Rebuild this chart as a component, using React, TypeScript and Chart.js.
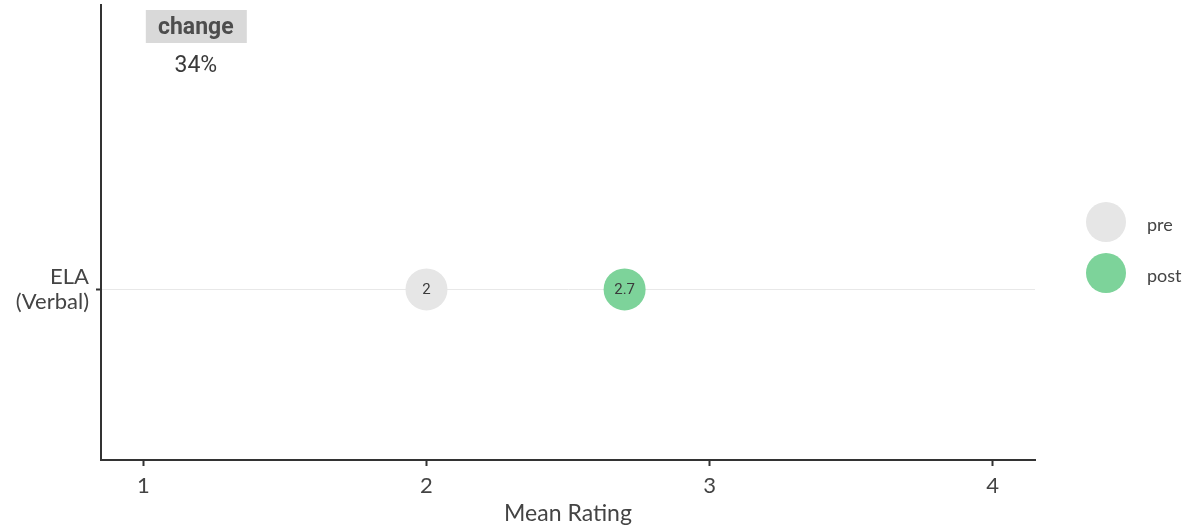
import React, { useEffect, useRef } from "react";
import { Chart, registerables } from "chart.js";

Chart.register(...registerables);

const categories = [["ELA", "(Verbal)"]];
const seriesNames = ["pre", "post"];
const preValues = [2];
const postValues = [2.7];
const changeLabels = ["34%"];
const xTicks = [1, 2, 3, 4];
const colors = ["#e6e6e6", "#7dd39a"];

export default function App() {
  const ref = useRef<HTMLCanvasElement | null>(null);

  useEffect(() => {
    document.body.style.margin = "0";
    const canvas = ref.current!;
    const series = [preValues, postValues];

    const labelPlugin = {
      id: "customDraw",
      afterDatasetsDraw(chart: any) {
        const ctx = chart.ctx;
        ctx.save();
        chart.data.datasets.forEach((ds: any, i: number) => {
          const meta = chart.getDatasetMeta(i);
          meta.data.forEach((pt: any, j: number) => {
            const v = ds.data[j].x;
            ctx.fillStyle = "#3a3a3a";
            ctx.font = "15px Roboto";
            ctx.textAlign = "center";
            ctx.textBaseline = "middle";
            ctx.fillText(String(v), pt.x, pt.y + 1);
          });
        });
        // change header
        const xs = chart.scales.x;
        const cx = xs.getPixelForValue(1.185);
        ctx.fillStyle = "#d9d9d9";
        ctx.fillRect(cx - 50, 10, 101, 33);
        ctx.fillStyle = "#4d4d4d";
        ctx.font = "bold 23px Roboto";
        ctx.textAlign = "center";
        ctx.textBaseline = "middle";
        ctx.fillText("change", cx, 28);
        ctx.fillStyle = "#3a3a3a";
        ctx.font = "23px Roboto";
        changeLabels.forEach((t) => ctx.fillText(t, cx, 66));
        // legend
        chart.data.datasets.forEach((ds: any, i: number) => {
          const ly = 222 + i * 51;
          ctx.beginPath();
          ctx.arc(1106, ly, 20, 0, Math.PI * 2);
          ctx.fillStyle = ds.backgroundColor;
          ctx.fill();
          ctx.fillStyle = "#444";
          ctx.font = "18px Lato";
          ctx.textAlign = "left";
          ctx.fillText(ds.label, 1147, ly + 3);
        });
        ctx.restore();
      },
    };

    const chart = new Chart(canvas, {
      type: "scatter",
      data: {
        datasets: seriesNames.map((name, i) => ({
          label: name,
          data: series[i].map((v, j) => ({ x: v, y: j + 1 })),
          backgroundColor: colors[i],
          borderColor: colors[i],
          borderWidth: 0,
          pointRadius: 21,
          pointHoverRadius: 21,
        })),
      },
      options: {
        animation: false,
        responsive: true,
        maintainAspectRatio: false,
        layout: { autoPadding: false, padding: { top: 5, right: 158, left: 0, bottom: 0 } },
        plugins: { legend: { display: false }, tooltip: { enabled: false } },
        scales: {
          x: {
            type: "linear",
            min: 0.85,
            max: 4.15,
            afterBuildTicks: (s: any) => {
              s.ticks = xTicks.map((v) => ({ value: v }));
            },
            afterFit: (s: any) => {
              s.height = 67;
              s.paddingLeft = 0;
              s.paddingRight = 0;
            },
            border: { display: true, color: "#333", width: 2 },
            grid: {
              display: true,
              drawOnChartArea: false,
              tickColor: "#333",
              tickLength: 6,
              tickWidth: 2,
            },
            ticks: {
              color: "#444",
              font: { family: "Lato", size: 22 },
              padding: 7,
              callback: (v: any) => String(v),
            },
            title: {
              display: true,
              text: "Mean Rating",
              color: "#444",
              font: { family: "Lato", size: 23 },
              padding: { top: 0, bottom: 0 },
            },
          },
          y: {
            type: "linear",
            min: 0.4,
            max: 2.0,
            afterBuildTicks: (s: any) => {
              s.ticks = categories.map((_, i) => ({ value: i + 1 }));
            },
            afterFit: (s: any) => {
              s.width = 101;
              s.paddingTop = 0;
              s.paddingBottom = 0;
            },
            border: { display: true, color: "#333", width: 2 },
            grid: {
              display: true,
              color: "#e8e8e8",
              lineWidth: 1,
              tickColor: "#333",
              tickLength: 5,
              tickWidth: 2,
            },
            ticks: {
              color: "#444",
              font: { family: "Lato", size: 22, lineHeight: 1.1 },
              padding: 7,
              callback: (v: any) => categories[Math.round(v) - 1] ?? "",
            },
          },
        },
      },
      plugins: [labelPlugin],
    } as any);
    return () => chart.destroy();
  }, []);

  return (
    <div style={{ width: "1193px", height: "527px", position: "relative" }}>
      <canvas ref={ref} />
    </div>
  );
}
